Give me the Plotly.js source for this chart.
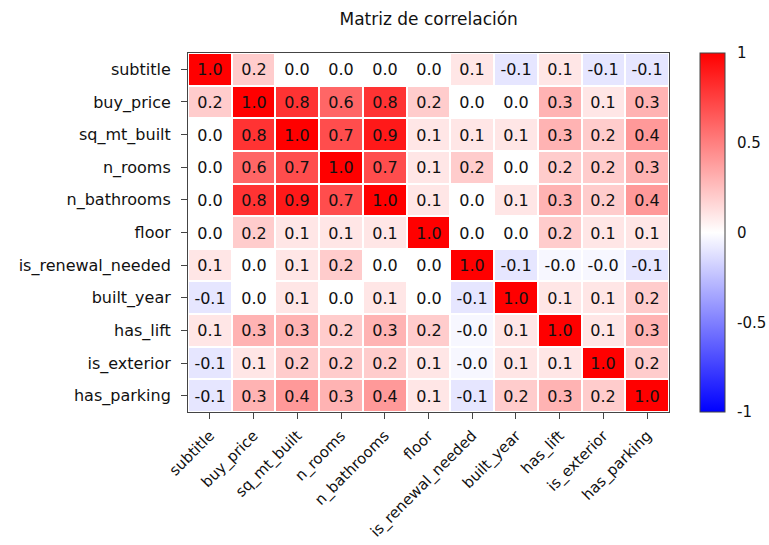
<!DOCTYPE html>
<html>
<head>
<meta charset="utf-8">
<script src="https://cdn.plot.ly/plotly-3.0.1.min.js"></script>
<style>html,body{margin:0;padding:0;background:#fff;}</style>
</head>
<body>
<div id="chart" style="width:769px;height:545px;"></div>
<script>
const variables = ["subtitle","buy_price","sq_mt_built","n_rooms","n_bathrooms","floor","is_renewal_needed","built_year","has_lift","is_exterior","has_parking"];

const row_subtitle          = [1.0, 0.2, 0.0, 0.0, 0.0, 0.0, 0.1, -0.1, 0.1, -0.1, -0.1];
const row_buy_price         = [0.2, 1.0, 0.8, 0.6, 0.8, 0.2, 0.0, 0.0, 0.3, 0.1, 0.3];
const row_sq_mt_built       = [0.0, 0.8, 1.0, 0.7, 0.9, 0.1, 0.1, 0.1, 0.3, 0.2, 0.4];
const row_n_rooms           = [0.0, 0.6, 0.7, 1.0, 0.7, 0.1, 0.2, 0.0, 0.2, 0.2, 0.3];
const row_n_bathrooms       = [0.0, 0.8, 0.9, 0.7, 1.0, 0.1, 0.0, 0.1, 0.3, 0.2, 0.4];
const row_floor             = [0.0, 0.2, 0.1, 0.1, 0.1, 1.0, 0.0, 0.0, 0.2, 0.1, 0.1];
const row_is_renewal_needed = [0.1, 0.0, 0.1, 0.2, 0.0, 0.0, 1.0, -0.1, -0.03, -0.03, -0.1];
const row_built_year        = [-0.1, 0.0, 0.1, 0.0, 0.1, 0.0, -0.1, 1.0, 0.1, 0.1, 0.2];
const row_has_lift          = [0.1, 0.3, 0.3, 0.2, 0.3, 0.2, -0.03, 0.1, 1.0, 0.1, 0.3];
const row_is_exterior       = [-0.1, 0.1, 0.2, 0.2, 0.2, 0.1, -0.03, 0.1, 0.1, 1.0, 0.2];
const row_has_parking       = [-0.1, 0.3, 0.4, 0.3, 0.4, 0.1, -0.1, 0.2, 0.3, 0.2, 1.0];

const colorbarTicks = [-1, -0.5, 0, 0.5, 1];
const colorbarTickText = ["-1", "-0.5", "0", "0.5", "1"];

const zRows = [row_subtitle,row_buy_price,row_sq_mt_built,row_n_rooms,row_n_bathrooms,row_floor,row_is_renewal_needed,row_built_year,row_has_lift,row_is_exterior,row_has_parking];
const textRows = zRows.map(r => r.map(v => v.toFixed(1)));

const FONT = "DejaVu Sans, Verdana, sans-serif";

const trace = {
  type: "heatmap",
  x: variables,
  y: variables,
  z: zRows,
  text: textRows,
  texttemplate: "%{text}",
  textfont: {family: FONT, size: 16, color: "#111"},
  zmin: -1, zmax: 1,
  colorscale: [[0,"rgb(0,0,255)"],[0.5,"rgb(255,255,255)"],[1,"rgb(255,0,0)"]],
  xgap: 2, ygap: 2,
  hoverinfo: "none",
  colorbar: {
    x: 1.064, xanchor: "left", xpad: 0,
    y: 0.5, yanchor: "middle", len: 1, lenmode: "fraction", ypad: 0,
    thickness: 25, thicknessmode: "pixels",
    outlinewidth: 1, outlinecolor: "#444",
    tickvals: colorbarTicks,
    ticktext: colorbarTickText,
    ticks: "outside", ticklen: 9, tickcolor: "rgba(0,0,0,0)",
    tickfont: {family: FONT, size: 15, color: "#111"}
  }
};

// small inner tick marks on the colorbar (at the right edge of the bar)
const cbShapes = colorbarTicks.slice(1, -1).map(v => ({
  type: "line", xref: "paper", yref: "paper",
  x0: 1.1035, x1: 1.1164, y0: (v + 1) / 2, y1: (v + 1) / 2,
  line: {color: "#444", width: 1}
}));

const layout = {
  width: 769, height: 545,
  margin: {l: 188, r: 100, t: 53, b: 133, autoexpand: false},
  paper_bgcolor: "#fff", plot_bgcolor: "#fff",
  title: {text: "Matriz de correlación", font: {family: FONT, size: 17, color: "#111"}, x: 0.5575, xanchor: "center", y: 0.965, yanchor: "middle"},
  shapes: cbShapes,
  xaxis: {
    tickangle: -45, ticks: "outside", ticklen: 6, tickcolor: "#444",
    ticklabelstandoff: 2, automargin: false,
    showline: true, linecolor: "#444", linewidth: 1, mirror: true,
    tickfont: {family: FONT, size: 15, color: "#111"},
    showgrid: false, zeroline: false
  },
  yaxis: {
    autorange: "reversed", ticks: "outside", ticklen: 6, tickcolor: "#444",
    ticklabelstandoff: 7, automargin: false,
    showline: true, linecolor: "#444", linewidth: 1, mirror: true,
    tickfont: {family: FONT, size: 16, color: "#111"},
    showgrid: false, zeroline: false
  }
};

Plotly.newPlot("chart", [trace], layout, {staticPlot: true, displayModeBar: false});
</script>
</body>
</html>
